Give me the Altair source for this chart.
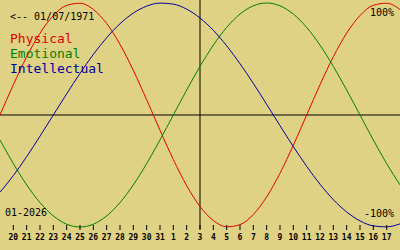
import altair as alt
import pandas as pd

# Days shown: 19 Dec 2025 .. 18 Jan 2026 (index 0..30); centre = 3 Jan 2026
day_labels = ["19", "20", "21", "22", "23", "24", "25", "26", "27", "28", "29", "30", "31",
              "1", "2", "3", "4", "5", "6", "7", "8", "9", "10", "11", "12", "13", "14",
              "15", "16", "17", "18"]
tick_idx = list(range(1, 30))
centre_idx = 15

series_names = ["Physical", "Emotional", "Intellectual"]
series_colors = ["#e00000", "#008000", "#0000a0"]

physical = [0.0, 0.27, 0.52, 0.73, 0.888, 0.979, 0.998, 0.942, 0.817, 0.631, 0.398,
            0.136, -0.136, -0.398, -0.631, -0.817, -0.942, -0.998, -0.979, -0.888,
            -0.731, -0.52, -0.27, 0.0, 0.27, 0.52, 0.731, 0.888, 0.979, 0.998, 0.942]
emotional = [-0.223, -0.434, -0.624, -0.782, -0.901, -0.975, -1.0, -0.975, -0.901,
             -0.782, -0.624, -0.434, -0.223, 0.0, 0.223, 0.434, 0.624, 0.782, 0.901,
             0.975, 1.0, 0.975, 0.901, 0.782, 0.624, 0.434, 0.223, 0.0, -0.223,
             -0.434, -0.624]
intellectual = [-0.69, -0.541, -0.372, -0.189, 0.0, 0.189, 0.372, 0.541, 0.69, 0.815,
                0.91, 0.972, 0.999, 0.99, 0.945, 0.866, 0.756, 0.618, 0.458, 0.282,
                0.095, -0.095, -0.282, -0.458, -0.618, -0.756, -0.866, -0.945, -0.99,
                -0.999, -0.972]

rows = []
for name, vals in zip(series_names, [physical, emotional, intellectual]):
    for i, v in enumerate(vals):
        rows.append({"i": i, "v": v, "series": name})
df = pd.DataFrame(rows)

ticks_df = pd.DataFrame({"i": tick_idx, "lab": [day_labels[k] for k in tick_idx]})

FONT = "DejaVu Sans Mono"
xscale = alt.Scale(domain=[0, 30], nice=False, zero=False)
yscale = alt.Scale(domain=[-1.2054, 1.0268], nice=False, zero=False)

lines = alt.Chart(df).mark_line(strokeWidth=1, interpolate="monotone").encode(
    x=alt.X("i:Q", scale=xscale, axis=None),
    y=alt.Y("v:Q", scale=yscale, axis=None),
    color=alt.Color("series:N", scale=alt.Scale(domain=series_names, range=series_colors),
                    legend=None),
)

tick_marks = alt.Chart(ticks_df).mark_rule(color="black", strokeWidth=1).encode(
    x=alt.X("i:Q", scale=xscale, axis=None), y=alt.value(225), y2=alt.value(230))
tick_labels = alt.Chart(ticks_df).mark_text(
    font=FONT, fontSize=8, fontWeight="bold", color="black", baseline="alphabetic"
).encode(x=alt.X("i:Q", scale=xscale, axis=None), y=alt.value(240), text="lab:N")

hrule = alt.Chart(pd.DataFrame({"v": [0]})).mark_rule(color="black", strokeWidth=1).encode(
    y=alt.Y("v:Q", scale=yscale, axis=None))
vrule = alt.Chart(pd.DataFrame({"i": [centre_idx]})).mark_rule(color="black", strokeWidth=1).encode(
    x=alt.X("i:Q", scale=xscale, axis=None), y=alt.value(0), y2=alt.value(229))

def txt(s, x, y, color="black", size=10, align="left"):
    return alt.Chart(pd.DataFrame({"t": [s]})).mark_text(
        font=FONT, fontSize=size, color=color, align=align, baseline="alphabetic"
    ).encode(x=alt.value(x), y=alt.value(y), text="t:N")

texts = [
    txt("<-- 01/07/1971", 10, 20),
    txt(series_names[0], 10, 43, series_colors[0], 13),
    txt(series_names[1], 10, 58, series_colors[1], 13),
    txt(series_names[2], 10, 73, series_colors[2], 13),
    txt("100%", 394, 16, align="right"),
    txt("-100%", 394, 217, align="right"),
    txt("01-2026", 5, 216),
]

chart = alt.layer(hrule, vrule, lines, tick_marks, tick_labels, *texts).properties(
    width=400, height=250, background="#e0d284",
    autosize=alt.AutoSizeParams(type="none"), padding=0,
).configure_view(stroke=None)

chart.save("out.html", embed_options={"renderer": "svg", "actions": False})
